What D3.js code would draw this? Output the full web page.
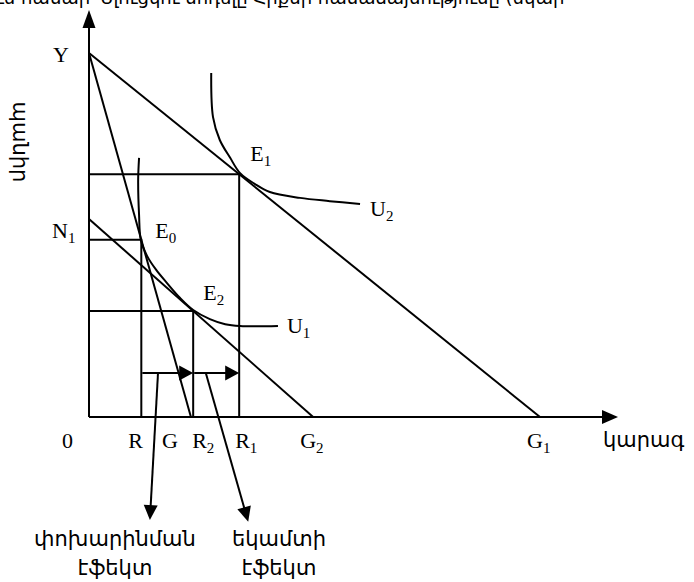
<!DOCTYPE html>
<html>
<head>
<meta charset="utf-8">
<script src="https://cdn.jsdelivr.net/npm/d3@7"></script>
<style>
  body { margin: 0; background: #fff; }
  svg { display: block; }
</style>
</head>
<body>
<script>
    // Chart values, in the diagram's own units (origin = 0, Y = 100, G1 = 100)
    var tickNames = ["0", "R", "G", "R2", "R1", "G2", "G1"],
        tickValues = [0, 11.6, 22.6, 23.1, 33.3, 49.7, 100],
        budgetFrom = [[0, 100], [0, 100], [0, 54.4]],
        budgetTo = [[100, 0], [22.6, 0], [49.7, 0]],
        eqNames = ["E0", "E1", "E2"],
        eqX = [11.6, 33.3, 23.1],
        eqY = [48.7, 66.7, 29.1],
        u1 = [[11.1, 71.2], [10.9, 65.1], [11.1, 55.5], [11.5, 48.6], [12.9, 44.2], [14.9, 40.4],
              [17.3, 36.8], [20.2, 32.7], [23.1, 29.4], [26.8, 26.9], [30.2, 25.5], [33.5, 25.0], [41.9, 25.0]],
        u2 = [[27.1, 94.5], [27.5, 82.4], [29.0, 76.1], [31.3, 71.2], [33.5, 67.0], [36.8, 64.0],
              [40.1, 61.8], [46.8, 60.2], [53.4, 59.3], [60.1, 58.5]],
        effectLevel = 12.1,
        effectSpans = [[11.6, 23.1], [23.1, 33.3]],
        effectNames = [["փոխարինման", "էֆեկտ"], ["եկամտի", "էֆեկտ"]],
        xAxisName = "կարագ",
        yAxisName = "պանիր",
        headline = "ւն համար՝ Սլուցկու մոդելը  Հիքսի համաձայնությունը (նկար";

    var width = 694,
        height = 582,
        xMax = 117.3,
        yMax = 111.8,
        serif = "'Liberation Serif', 'Times New Roman', serif",
        sans = "'DejaVu Sans', sans-serif",
        svg = d3.select("body").append("svg")
            .attr("width", width)
            .attr("height", height),
        x = d3.scaleLinear().domain([0, 100]).range([89, 540]),
        y = d3.scaleLinear().domain([0, 100]).range([417, 53]),
        line = d3.line().x(function (d) { return x(d[0]); }).y(function (d) { return y(d[1]); }),
        curve = d3.line().curve(d3.curveCatmullRom.alpha(0.5))
            .x(function (d) { return x(d[0]); }).y(function (d) { return y(d[1]); });

    // A filled triangle pointing from (x1,y1) to the tip (x2,y2)
    function arrowHead(g, x1, y1, x2, y2, len, half) {
        var a = Math.atan2(y2 - y1, x2 - x1),
            bx = x2 - len * Math.cos(a),
            by = y2 - len * Math.sin(a),
            px = -Math.sin(a) * half,
            py = Math.cos(a) * half;
        g.append("path")
            .attr("d", "M" + x2 + "," + y2 + "L" + (bx + px) + "," + (by + py) + "L" + (bx - px) + "," + (by - py) + "Z")
            .style("fill", "#000");
    }

    // Label with an optional subscript (e.g. "R2" -> R with 2 below)
    function subLabel(g, text, lx, ly, size) {
        var t = g.append("text")
            .attr("x", lx)
            .attr("y", ly)
            .style("font-family", serif)
            .style("font-size", size + "px");
        t.append("tspan").text(text.charAt(0));
        if (text.length > 1) {
            t.append("tspan")
                .attr("dy", 5)
                .style("font-size", Math.round(size * 0.66) + "px")
                .text(text.slice(1));
        }
        return t;
    }

    var g = svg.append("g")
        .style("stroke", "#000")
        .style("stroke-width", 2)
        .style("fill", "none");

    // Headline, clipped by the top of the page as in the source
    svg.append("text")
        .attr("x", -4)
        .attr("y", 4)
        .style("font-family", sans)
        .style("font-size", "18px")
        .text(headline);

    // Axes with arrow heads
    g.append("line").attr("x1", x(0)).attr("y1", y(0)).attr("x2", x(0)).attr("y2", y(yMax) + 10);
    g.append("line").attr("x1", x(0)).attr("y1", y(0)).attr("x2", x(xMax) - 10).attr("y2", y(0));
    arrowHead(svg, x(0), y(0), x(0), y(yMax), 18, 6.5);
    arrowHead(svg, x(0), y(0), x(xMax), y(0), 16, 7);

    // Budget lines
    budgetFrom.forEach(function (p, i) {
        g.append("path").attr("d", line([p, budgetTo[i]]));
    });

    // Guide lines to each equilibrium
    eqX.forEach(function (ex, i) {
        g.append("path").attr("d", line([[0, eqY[i]], [ex, eqY[i]], [ex, 0]]));
    });

    // Indifference curves
    g.append("path").attr("d", curve(u1));
    g.append("path").attr("d", curve(u2));

    // Substitution and income effect arrows
    effectSpans.forEach(function (s) {
        g.append("line")
            .attr("x1", x(s[0]) + 1).attr("y1", y(effectLevel))
            .attr("x2", x(s[1]) - 8).attr("y2", y(effectLevel));
        arrowHead(svg, x(s[0]), y(effectLevel), x(s[1]), y(effectLevel), 14, 7.5);
    });

    // Callout pointers from the arrows to the captions
    var callFrom = [[15.3, effectLevel], [25.9, effectLevel]],
        callTo = [[13.5, -28.3], [35.3, -28.8]];
    callFrom.forEach(function (p, i) {
        var x1 = x(p[0]), y1 = y(p[1]), x2 = x(callTo[i][0]), y2 = y(callTo[i][1]),
            a = Math.atan2(y2 - y1, x2 - x1);
        g.append("line")
            .attr("x1", x1).attr("y1", y1)
            .attr("x2", x2 - 10 * Math.cos(a)).attr("y2", y2 - 10 * Math.sin(a));
        arrowHead(svg, x1, y1, x2, y2, 15, 7);
    });

    // Captions under the pointers
    var capX = [115, 279];
    effectNames.forEach(function (lines, i) {
        lines.forEach(function (s, j) {
            svg.append("text")
                .attr("x", capX[i])
                .attr("y", 546 + j * 29)
                .attr("text-anchor", "middle")
                .style("font-family", sans)
                .style("font-size", "21px")
                .text(s);
        });
    });

    // Tick labels on the horizontal axis
    var tickShift = [-27, -13, -29, -1, -4, -13, -13];
    tickNames.forEach(function (n, i) {
        subLabel(svg, n, x(tickValues[i]) + tickShift[i], 448, 22);
    });

    // Point labels
    subLabel(svg, "Y", x(0) - 36, y(100) + 9, 22);
    subLabel(svg, "N1", x(0) - 37, y(54.4) + 19, 22);
    var eqDx = [14, 11, 10], eqDy = [-2, -13, -11];
    eqNames.forEach(function (n, i) {
        subLabel(svg, n, x(eqX[i]) + eqDx[i], y(eqY[i]) + eqDy[i], 22);
    });
    subLabel(svg, "U1", x(u1[u1.length - 1][0]) + 9, y(u1[u1.length - 1][1]) + 7, 22);
    subLabel(svg, "U2", x(u2[u2.length - 1][0]) + 10, y(u2[u2.length - 1][1]) + 12, 22);

    // Axis names
    svg.append("text")
        .attr("x", 603)
        .attr("y", 447)
        .style("font-family", sans)
        .style("font-size", "21px")
        .text(xAxisName);
    svg.append("text")
        .attr("transform", "translate(20,142) rotate(90)")
        .attr("text-anchor", "middle")
        .attr("dy", "0.35em")
        .style("font-family", sans)
        .style("font-size", "21px")
        .text(yAxisName);
</script>
</body>
</html>
